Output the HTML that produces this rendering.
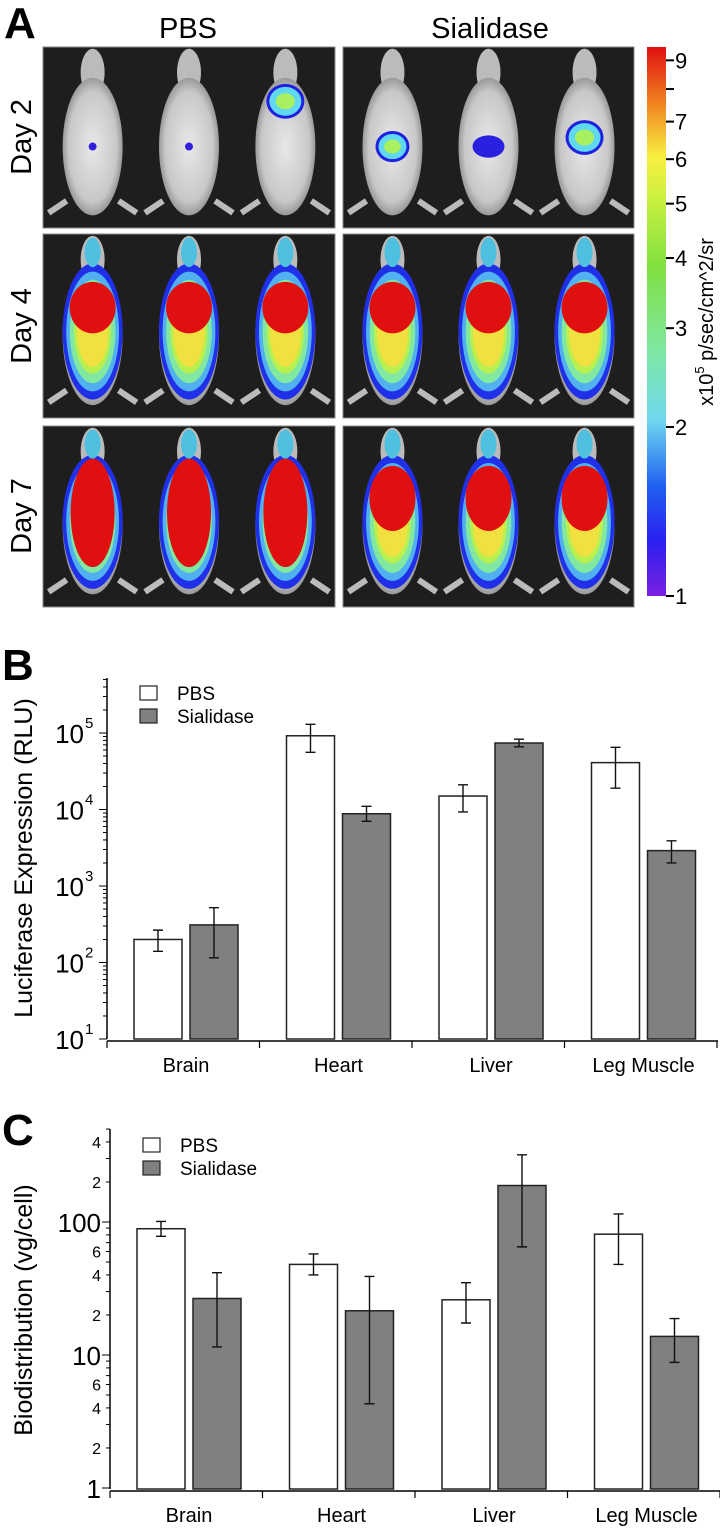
<!DOCTYPE html>
<html><head><meta charset="utf-8">
<style>
html,body{margin:0;padding:0;background:#fff;}
body{width:720px;height:1528px;overflow:hidden;font-family:"Liberation Sans",Arial,sans-serif;}
svg{display:block;position:absolute;left:0;top:0;}
</style></head>
<body>
<svg id="fig" width="720" height="1528" viewBox="0 0 720 1528" xmlns="http://www.w3.org/2000/svg">
<defs>
<linearGradient id="cbar" x1="0" y1="1" x2="0" y2="0">
<stop offset="0" stop-color="#7a1fe0"/>
<stop offset="0.1" stop-color="#2a20f0"/>
<stop offset="0.2" stop-color="#2060f0"/>
<stop offset="0.32" stop-color="#6fd8f0"/>
<stop offset="0.45" stop-color="#7fe8a0"/>
<stop offset="0.6" stop-color="#80e040"/>
<stop offset="0.72" stop-color="#c8f040"/>
<stop offset="0.8" stop-color="#f8f040"/>
<stop offset="0.9" stop-color="#f08020"/>
<stop offset="1" stop-color="#e01010"/>
</linearGradient>
<radialGradient id="bodyg" cx="0.5" cy="0.5" r="0.5">
<stop offset="0" stop-color="#e8e8e8"/><stop offset="0.8" stop-color="#c8c8c8"/><stop offset="1" stop-color="#999"/>
</radialGradient>
</defs>
<g id="panelA">
<text x="4" y="38" font-size="44" font-weight="bold">A</text>
<text x="188" y="38" font-size="29" text-anchor="middle">PBS</text>
<text x="490" y="38" font-size="29" text-anchor="middle">Sialidase</text>
<text transform="translate(31,137) rotate(-90)" font-size="29" text-anchor="middle">Day 2</text>
<text transform="translate(31,326) rotate(-90)" font-size="29" text-anchor="middle">Day 4</text>
<text transform="translate(31,516) rotate(-90)" font-size="29" text-anchor="middle">Day 7</text>
<g id="mice"></g>
<rect x="647" y="47" width="19" height="549" fill="url(#cbar)"/>
<g id="cbticks"></g>
<text transform="translate(713,322) rotate(-90)" font-size="20" text-anchor="middle">x10<tspan dy="-9" font-size="13">5</tspan><tspan dy="9"> p/sec/cm^2/sr</tspan></text>
</g>
<g id="panelB">
<text x="2" y="680" font-size="44" font-weight="bold">B</text>
<text transform="translate(32,858) rotate(-90)" font-size="25" text-anchor="middle">Luciferase Expression (RLU)</text>
</g>
<g id="panelC">
<text x="2" y="1145" font-size="44" font-weight="bold">C</text>
<text transform="translate(32,1310) rotate(-90)" font-size="25" text-anchor="middle">Biodistribution (vg/cell)</text>
</g>
</svg>
<script>
// ---- Chart B data ----
const categories = ["Brain","Heart","Liver","Leg Muscle"];
const bPbs = [200, 92000, 15000, 41000];
const bPbsLo = [140, 56000, 9300, 19000];
const bPbsHi = [265, 130000, 21000, 65000];
const bSia = [310, 8800, 74000, 2900];
const bSiaLo = [115, 7000, 66000, 2000];
const bSiaHi = [520, 11000, 83000, 3900];
const bTickExps = [1,2,3,4,5];
// ---- Chart C data ----
const cPbs = [89, 48, 26, 81];
const cPbsLo = [78, 40, 17.4, 48];
const cPbsHi = [101, 57.5, 35, 115];
const cSia = [26.6, 21.5, 188, 13.8];
const cSiaLo = [11.5, 4.3, 65, 8.8];
const cSiaHi = [41.6, 39, 320, 18.8];
const cTickVals = [1,2,4,6,10,20,40,60,100,200,400];
const cTickLabels = ["1","2","4","6","10","2","4","6","100","2","4"];
// ---- Colorbar ----
const cbVals = [1,2,3,4,5,6,7,8,9];
const cbLabels = ["1","2","3","4","5","6","7","","9"];

const NS="http://www.w3.org/2000/svg";
function el(parent,tag,attrs,text){const e=document.createElementNS(NS,tag);for(const k in attrs)e.setAttribute(k,attrs[k]);if(text!==undefined)e.textContent=text;parent.appendChild(e);return e;}

// colorbar ticks
const cbG=document.getElementById('cbticks');
const cbY=v=>596-549*Math.log10(v)/0.978;
cbVals.forEach((v,i)=>{
  const y=cbY(v);
  const t=el(cbG,'line',{x1:666,x2:674,y1:y,y2:y,stroke:'#000','stroke-width':2});
  
  
  if(cbLabels[i]){
    const tx=el(cbG,'text',{x:675,y:y+8,'font-size':22},cbLabels[i]);
    
    
  }
});

// mice panels
const mice=document.getElementById('mice');
const panels=[
 {x:43,y:47,w:292,h:181,day:2,grp:'pbs'},{x:343,y:47,w:291,h:181,day:2,grp:'sia'},
 {x:43,y:234,w:292,h:184,day:4,grp:'pbs'},{x:343,y:234,w:291,h:184,day:4,grp:'sia'},
 {x:43,y:426,w:292,h:181,day:7,grp:'pbs'},{x:343,y:426,w:291,h:181,day:7,grp:'sia'}];
const blobs2={pbs:[[0,0,0],[0,0,0],[1,0.3,16]],sia:[[1,0.55,14],[2,0.55,16],[1,0.5,16]]};
panels.forEach(p=>{
  const g=el(mice,'g',{});
  
  
  el(g,'rect',{x:p.x,y:p.y,width:p.w,height:p.h,fill:'#1e1e1e',stroke:'#888','stroke-width':1});
  [0.17,0.5,0.83].forEach((f,i)=>{
    const cx=p.x+p.w*f, h=p.h;
    el(g,'ellipse',{cx:cx,cy:p.y+h*0.14,rx:12,ry:h*0.13,fill:'#bbb'});
    el(g,'ellipse',{cx:cx,cy:p.y+h*0.55,rx:30,ry:h*0.38,fill:'url(#bodyg)'});
    el(g,'path',{d:`M${cx-26} ${p.y+h*0.85} l-18 12 M${cx+26} ${p.y+h*0.85} l18 12`,stroke:'#bbb','stroke-width':6});
    if(p.day===2){
      const b=blobs2[p.grp][i];
      if(b[0]===1){
        el(g,'ellipse',{cx:cx,cy:p.y+h*b[1],rx:b[2]+3,ry:b[2]*0.9+3,fill:'#2020e0'});
        el(g,'ellipse',{cx:cx,cy:p.y+h*b[1],rx:b[2],ry:b[2]*0.9,fill:'#60d8f0'});
        el(g,'ellipse',{cx:cx,cy:p.y+h*b[1],rx:b[2]*0.6,ry:b[2]*0.5,fill:'#a8f060'});
      } else if(b[0]===2){
        el(g,'ellipse',{cx:cx,cy:p.y+h*b[1],rx:b[2],ry:b[2]*0.7,fill:'#2a20e0'});
      } else {
        el(g,'ellipse',{cx:cx,cy:p.y+h*0.55,rx:4,ry:4,fill:'#3020e0'});
      }
    } else {
      const cols=['#2030e8','#50b0f0','#80e8a0','#b8f050','#f0e040'];
      const sc=[1,0.88,0.76,0.62,0.52];
      cols.forEach((c,k)=>{
        el(g,'ellipse',{cx:cx,cy:p.y+h*0.53,rx:30*sc[k],ry:h*0.37*sc[k],fill:c});
      });
      if(p.day===4){
        el(g,'ellipse',{cx:cx,cy:p.y+h*0.4,rx:23,ry:h*0.14,fill:'#e01010'});
      } else if(p.grp==='pbs'){
        el(g,'ellipse',{cx:cx,cy:p.y+h*0.48,rx:22,ry:h*0.3,fill:'#e01010'});
      } else {
        el(g,'ellipse',{cx:cx,cy:p.y+h*0.4,rx:23,ry:h*0.18,fill:'#e01010'});
      }
      el(g,'ellipse',{cx:cx,cy:p.y+h*0.1,rx:8,ry:h*0.08,fill:'#50c0e0'});
    }
  });
});

// generic log bar chart
function drawChart(id,cfg){
  const G=document.getElementById(id);
  const Y=v=>cfg.y0-(Math.log10(v)-cfg.l0)*cfg.dec;
  const ax=cfg.axX;
  const yl=el(G,'line',{x1:ax,x2:ax,y1:cfg.top,y2:cfg.base,stroke:'#000','stroke-width':1.5});
  
  
  const xl=el(G,'line',{x1:ax,x2:ax+611,y1:cfg.base+2,y2:cfg.base+2,stroke:'#000','stroke-width':1.5});
  
  
  for(let k=0;k<5;k++){
    const x=ax+k*152.5;
    el(G,'line',{x1:x,x2:x,y1:cfg.base+2,y2:cfg.base+9,stroke:'#000','stroke-width':1.2});
  }
  for(let d=cfg.lmin;d<cfg.lmax;d++){
    for(let m=1;m<10;m++){
      const v=m*Math.pow(10,d);const y=Y(v);
      if(y<cfg.top-1) continue;
      el(G,'line',{x1:ax-(m===1?8:4),x2:ax,y1:y,y2:y,stroke:'#000','stroke-width':1});
    }
  }
  cfg.labels(G,Y);
  categories.forEach((c,i)=>{
    const gx=ax+i*152.5;
    const t=el(G,'text',{x:gx+79,y:cfg.base+33,'font-size':20,'text-anchor':'middle'},c);
    
    
    [[cfg.pbs,cfg.pbsLo,cfg.pbsHi,'#fff',27,'pbs'],[cfg.sia,cfg.siaLo,cfg.siaHi,'#808080',83,'sialidase']].forEach(s=>{
      const v=s[0][i],x=gx+s[4],y=Y(v);
      const r=el(G,'rect',{x:x,y:y,width:48,height:cfg.base-y,fill:s[3],stroke:'#222','stroke-width':1.5});
      
      
      const cx=x+24,ylo=Y(s[1][i]),yhi=Y(s[2][i]);
      const e=el(G,'path',{d:`M${cx} ${ylo}V${yhi}M${cx-5} ${ylo}h10M${cx-5} ${yhi}h10`,stroke:'#111','stroke-width':1.4,fill:'none'});
      
      
    });
  });
  const lg=el(G,'g',{});
  
  
  el(lg,'rect',{x:ax+33,y:cfg.legY-7,width:17,height:14,fill:'#fff',stroke:'#222','stroke-width':1.2});
  el(lg,'text',{x:ax+70,y:cfg.legY+7,'font-size':19},'PBS');
  el(lg,'rect',{x:ax+33,y:cfg.legY+16,width:17,height:14,fill:'#808080',stroke:'#222','stroke-width':1.2});
  el(lg,'text',{x:ax+70,y:cfg.legY+30,'font-size':19},'Sialidase');
}

drawChart('panelB',{axX:107,y0:733,l0:5,dec:76.5,top:678,base:1039,lmin:1,lmax:6,
 pbs:bPbs,pbsLo:bPbsLo,pbsHi:bPbsHi,sia:bSia,siaLo:bSiaLo,siaHi:bSiaHi,legY:693,
 labels:(G,Y)=>{bTickExps.forEach(e=>{const y=Y(Math.pow(10,e));
   const t=el(G,'text',{x:84,y:y+10,'font-size':26,'text-anchor':'end'},'10');
   
   
   el(G,'text',{x:85,y:y-5,'font-size':15},String(e));});}});

drawChart('panelC',{axX:110,y0:1222,l0:2,dec:133,top:1129,base:1489,lmin:0,lmax:3,
 pbs:cPbs,pbsLo:cPbsLo,pbsHi:cPbsHi,sia:cSia,siaLo:cSiaLo,siaHi:cSiaHi,legY:1145,
 labels:(G,Y)=>{cTickVals.forEach((v,i)=>{const y=Y(v);const big=cTickLabels[i].length>1||v===1;
   const t=el(G,'text',{x:101,y:y+(big?10:6),'font-size':big?26:16,'text-anchor':'end'},cTickLabels[i]);
   
   });}});
</script>
</body></html>
